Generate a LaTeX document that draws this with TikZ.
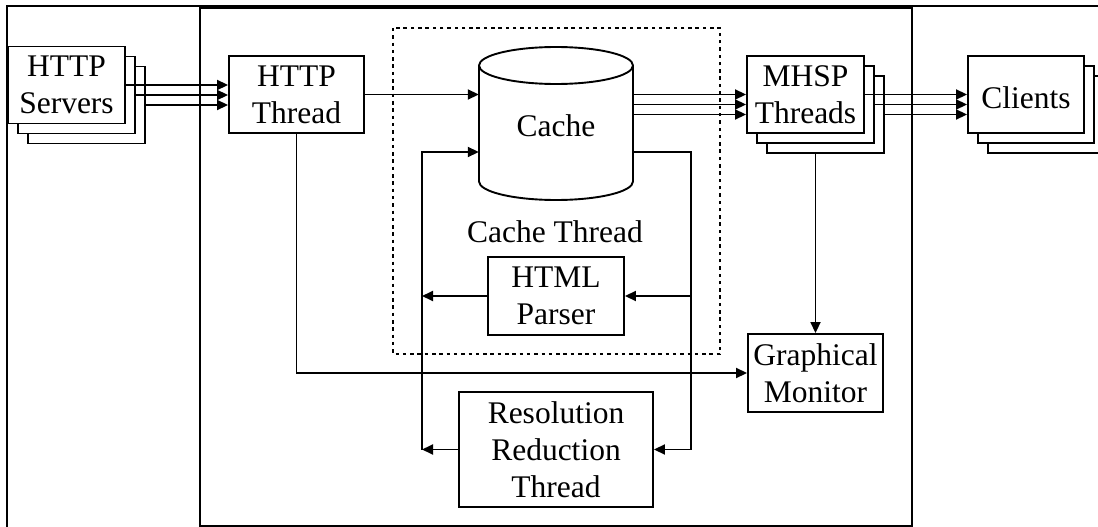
\documentclass[tikz,border=0pt]{standalone}
\usepackage{fontspec}
\setmainfont{Liberation Serif}
\usetikzlibrary{arrows.meta}
\begin{document}
\begin{tikzpicture}[x=1pt,y=-1pt,
  lbl/.style={font=\fontsize{31.5}{37}\selectfont},
  box/.style={draw, line width=1.9pt, fill=white, rectangle, inner sep=0pt,
    align=center, lbl, execute at begin node={\rule{0pt}{28pt}}},
  stack/.style={box, minimum width=117pt, minimum height=77pt},
  txt/.style={lbl, inner sep=0pt},
  wire/.style={line width=1.8pt},
  arr/.style={wire, -{Triangle[length=11pt,width=10pt]}}]
\useasboundingbox (0,0) rectangle (1098,527);

% frames
\draw[line width=2.6pt] (1100,6) -- (7,6) -- (7,530);
\draw[line width=2.2pt] (200,8) rectangle (912,526);
\draw[line width=2.2pt, dash pattern=on 3.5pt off 3.8pt] (393,28) rectangle (720,354);

% HTTP servers (stacked)
\node[stack] (srv3) at (86.5,105) {};
\node[stack] (srv2) at (76.5,95) {};
\node[stack] (srv1) at (66.5,85) {HTTP\\Servers};

% HTTP thread
\node[box, minimum width=135pt, minimum height=77pt] (hthread) at (296.5,94.5) {HTTP\\Thread};

% cache cylinder
\draw[line width=1.9pt] (479,65.5) -- (479,181.5)
  arc[start angle=180, end angle=360, x radius=77pt, y radius=18.5pt]
  -- (633,65.5)
  arc[start angle=0, end angle=180, x radius=77pt, y radius=18.5pt] -- cycle;
\draw[line width=1.9pt] (479,65.5)
  arc[start angle=180, end angle=360, x radius=77pt, y radius=18.5pt];
\node[txt, minimum width=154pt, minimum height=153pt] (cache) at (556,123.5) {\rule{0pt}{27pt}Cache};
\node[txt] (cthread) at (555,232) {Cache Thread};

% HTML parser, resolution reduction, monitor
\node[box, minimum width=136pt, minimum height=78pt] (html) at (556,296) {HTML\\\smash{Parser}};
\node[box, minimum width=194pt, minimum height=115pt] (reso) at (556,449.5) {Resolution\\Reduction\\Thread};
\node[box, minimum width=135pt, minimum height=78pt] (monitor) at (815.5,373) {Graphical\\Monitor};

% MHSP threads (stacked)
\node[stack] (mhsp3) at (825.5,114.5) {};
\node[stack] (mhsp2) at (815.5,104.5) {};
\node[stack] (mhsp1) at (805.5,94.5) {MHSP\\Threads};

% clients (stacked)
\node[stack, minimum width=116pt] (cli3) at (1046,114.5) {};
\node[stack, minimum width=116pt] (cli2) at (1036,104.5) {};
\node[stack, minimum width=116pt] (cli1) at (1026,94.5) {Clients};

% servers -> HTTP thread
\draw[arr] (srv1.east) -- (srv1.east -| hthread.west);
\draw[arr] (srv2.east) -- (srv2.east -| hthread.west);
\draw[arr] (srv3.east) -- (srv3.east -| hthread.west);

% HTTP thread -> cache
\draw[arr] (hthread.east) -- (hthread.east -| cache.west);

% cache -> MHSP threads
\draw[arr] (cache.east |- mhsp1.center) -- (mhsp1.west);
\draw[arr] (cache.east |- mhsp2.center) -- (mhsp1.west |- mhsp2.center);
\draw[arr] (cache.east |- mhsp3.center) -- (mhsp1.west |- mhsp3.center);

% MHSP threads -> clients
\draw[arr] (mhsp1.east) -- (mhsp1.east -| cli1.west);
\draw[arr] (mhsp2.east) -- (mhsp2.east -| cli1.west);
\draw[arr] (mhsp3.east) -- (mhsp3.east -| cli1.west);

% loop between cache and the worker threads
\coordinate (lp) at (422,152);
\coordinate (rp) at (691,152);
\draw[arr] (lp |- reso.west) -- (lp) -- (lp -| cache.west);
\draw[arr] (html.west) -- (html.west -| lp);
\draw[arr] (reso.west) -- (reso.west -| lp);
\draw[arr] (rp -| cache.east) -- (rp) -- (rp |- reso.east) -- (reso.east);
\draw[arr] (html.east -| rp) -- (html.east);

% monitoring
\draw[arr] (hthread.south) |- (monitor.west);
\draw[arr] (mhsp3.south -| monitor.north) -- (monitor.north);
\end{tikzpicture}
\end{document}
